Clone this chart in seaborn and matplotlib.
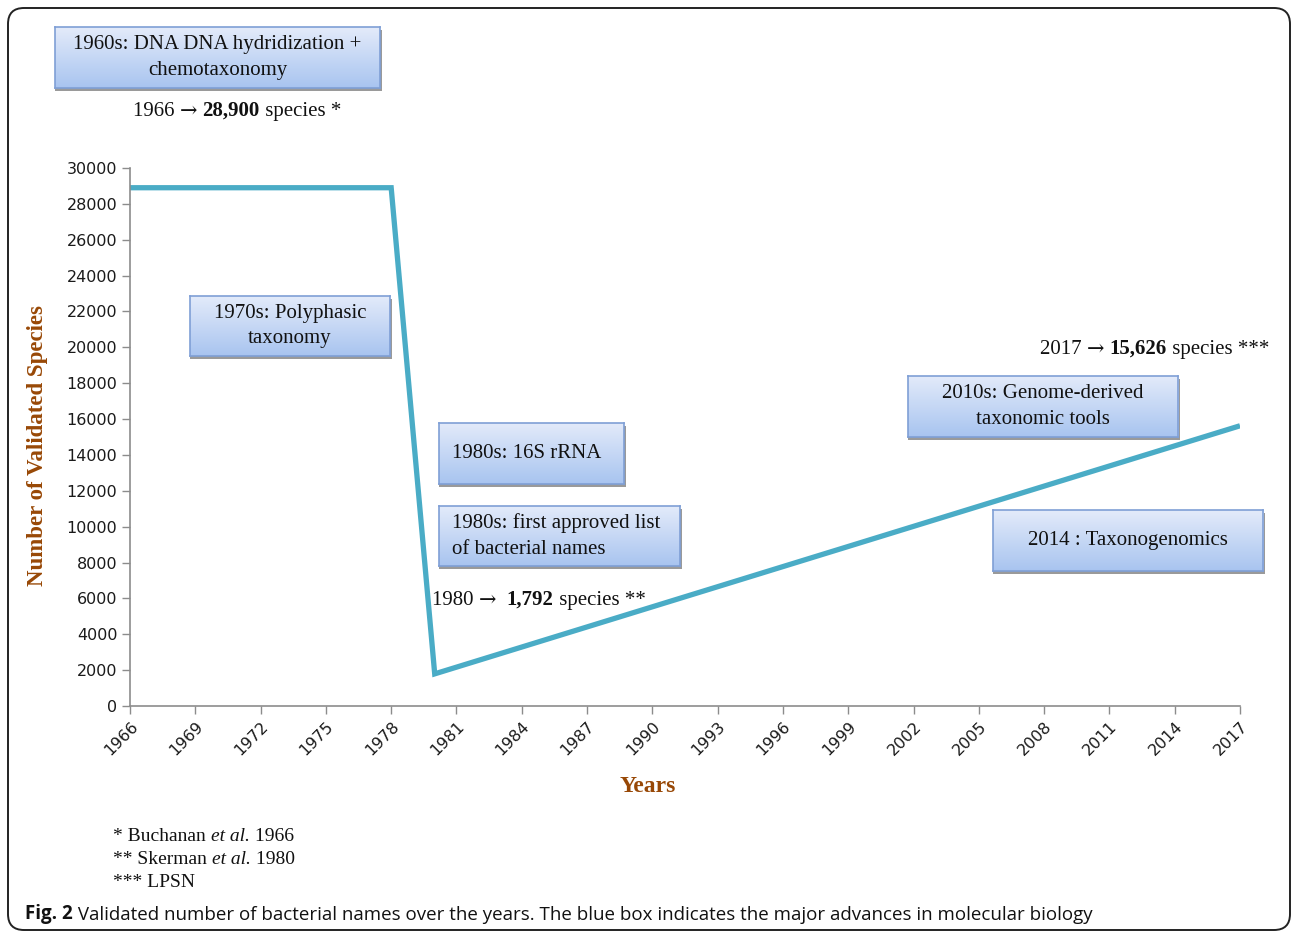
import numpy as np
import pandas as pd
import seaborn as sns
import matplotlib.pyplot as plt
from matplotlib.patches import FancyBboxPatch, Rectangle
from matplotlib.transforms import IdentityTransform

W, H = 1293, 932

years = [1966, 1978, 1980, 2017]
species = [28900, 28900, 1792, 15626]
x_ticks = list(range(1966, 2018, 3))
y_ticks = list(range(0, 30001, 2000))

box_texts = [
    "1960s: DNA DNA hydridization +\nchemotaxonomy",
    "1970s: Polyphasic\ntaxonomy",
    "1980s: 16S rRNA",
    "1980s: first approved list\nof bacterial names",
    "2010s: Genome-derived\ntaxonomic tools",
    "2014 : Taxonogenomics",
]

SERIF = ["Liberation Serif", "DejaVu Serif"]
ARROW = ["DejaVu Serif"]
LINE = "#4aacc6"
BROWN = "#984806"

sns.set_theme(style="white")
plt.rcParams["font.family"] = ["DejaVu Sans"]

fig = plt.figure(figsize=(W / 100, H / 100), dpi=100)
fig.patch.set_facecolor("white")


def frac(x0, y0, x1, y1):
    # pixel box (top-left origin) -> figure fraction rect
    return [x0 / W, 1 - y1 / H, (x1 - x0) / W, (y1 - y0) / H]


ax = fig.add_axes(frac(130, 168, 1240, 706))
ax.set_zorder(0)
df = pd.DataFrame({"Year": years, "Species": species})
sns.lineplot(data=df, x="Year", y="Species", ax=ax, color=LINE, lw=3.8,
             solid_joinstyle="miter", solid_capstyle="butt")
ax.set_xlim(1966, 2017)
ax.set_ylim(0, 30000)
ax.set_xticks(x_ticks)
ax.set_yticks(y_ticks)
ax.set_xticklabels([str(t) for t in x_ticks], rotation=45, ha="right",
                   rotation_mode="anchor")
ax.tick_params(axis="both", length=6, width=1, color="#8c8c8c",
               labelsize=11.5, labelcolor="#1a1a1a", direction="out",
               bottom=True, left=True, pad=3)
for s in ["top", "right"]:
    ax.spines[s].set_visible(False)
for s in ["left", "bottom"]:
    ax.spines[s].set_color("#8c8c8c")
    ax.spines[s].set_linewidth(1.2)
ax.set_xlabel("")
ax.set_ylabel("")

fig.text(38 / W, 1 - 446 / H, "Number of Validated Species", rotation=90,
         ha="center", va="center", family=SERIF, fontsize=16.5,
         fontweight="bold", color=BROWN)
fig.text(648 / W, 1 - 786 / H, "Years", ha="center", va="center",
         family=SERIF, fontsize=17, fontweight="bold", color=BROWN)

# annotation boxes with gradient fill
grad = np.linspace(0, 1, 64).reshape(-1, 1)
top_c = np.array([0.89, 0.92, 0.98])
bot_c = np.array([0.66, 0.77, 0.94])
img = top_c * (1 - grad[..., None]) + bot_c * grad[..., None]

box_pos = [
    (55, 27, 380, 88, "center"),
    (190, 296, 390, 356, "center"),
    (439, 423, 624, 484, "left"),
    (439, 506, 680, 566, "left"),
    (908, 376, 1178, 437, "center"),
    (993, 510, 1263, 571, "center"),
]
for txt, (x0, y0, x1, y1, al) in zip(box_texts, box_pos):
    fig.patches.append(Rectangle((x0 / W, 1 - (y1 + 3) / H), (x1 - x0 + 2) / W,
                                 (y1 - y0) / H, transform=fig.transFigure,
                                 facecolor="#9a9a9a", edgecolor="none",
                                 zorder=1.5))
    bax = fig.add_axes(frac(x0, y0, x1, y1))
    bax.set_zorder(2)
    bax.imshow(img, aspect="auto", extent=[0, 1, 0, 1])
    bax.set_xlim(0, 1)
    bax.set_ylim(0, 1)
    bax.set_xticks([])
    bax.set_yticks([])
    for s in bax.spines.values():
        s.set_visible(True)
        s.set_color("#7f9fd6")
        s.set_linewidth(1.2)
    tx = 0.5 if al == "center" else 13 / (x1 - x0)
    bax.text(tx, 0.5, txt, ha=al, va="center", family=SERIF, fontsize=15,
             color="#111111", linespacing=1.45, transform=bax.transAxes)


def rich(x, y, parts, size=15, family=SERIF):
    # chain text pieces left to right, y is bottom in top-origin pixels
    prev = None
    for part in parts:
        txt, weight, style = part[:3]
        fam = part[3] if len(part) > 3 else family
        kw = dict(fontsize=size, family=fam, fontweight=weight,
                  fontstyle=style, color="#111111", va="bottom", ha="left",
                  annotation_clip=False)
        if prev is None:
            prev = ax.annotate(txt, xy=(x, H - y), xycoords="figure pixels", **kw)
        else:
            prev = ax.annotate(txt, xy=(1, 0), xycoords=prev, **kw)


rich(133, 121, [("1966 ", "normal", "normal"), ("\u2192", "normal", "normal", ARROW),
                (" ", "normal", "normal"), ("28,900", "bold", "normal"),
                (" species *", "normal", "normal")])
rich(1040, 359, [("2017 ", "normal", "normal"), ("\u2192", "normal", "normal", ARROW),
                 (" ", "normal", "normal"), ("15,626", "bold", "normal"),
                 (" species ***", "normal", "normal")])
rich(432, 610, [("1980 ", "normal", "normal"), ("\u2192", "normal", "normal", ARROW),
                ("  ", "normal", "normal"), ("1,792", "bold", "normal"),
                (" species **", "normal", "normal")])

rich(113, 845, [("* Buchanan ", "normal", "normal"), ("et al.", "normal", "italic"),
                (" 1966", "normal", "normal")], size=14)
rich(113, 868, [("** Skerman ", "normal", "normal"), ("et al.", "normal", "italic"),
                (" 1980", "normal", "normal")], size=14)
rich(113, 891, [("*** LPSN", "normal", "normal")], size=14)

rich(25, 924, [("Fig. 2", "bold", "normal"),
               (" Validated number of bacterial names over the years. The blue box "
                "indicates the major advances in molecular biology", "normal", "normal")],
     size=13.5, family=["Open Sans", "DejaVu Sans"])

frame = FancyBboxPatch((8, 2), 1282, 922, boxstyle="round,pad=0,rounding_size=16",
                       transform=IdentityTransform(), facecolor="none",
                       edgecolor="#222222", linewidth=1.4, zorder=5)
fig.patches.append(frame)

fig.savefig("out.png", dpi=100)
